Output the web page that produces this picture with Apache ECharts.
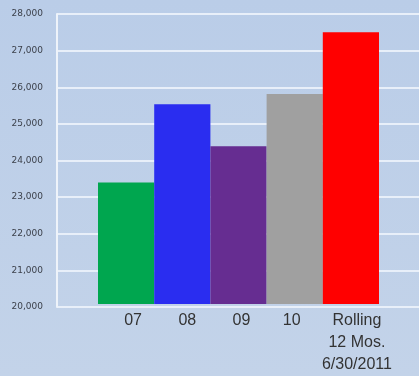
<!DOCTYPE html>
<html>
<head>
<meta charset="utf-8">
<script src="https://cdn.jsdelivr.net/npm/echarts@6/dist/echarts.min.js"></script>
<style>
  html, body { margin: 0; padding: 0; }
  #chart { width: 419px; height: 376px; }
</style>
</head>
<body>
<div id="chart"></div>
<script>
// 数据
const categories = ["07", "08", "09", "10", "Rolling\n12 Mos.\n6/30/2011"];
const values = [23350, 25510, 24350, 25790, 27500];
const barColors = ["#00a64f", "#2a2df0", "#662d91", "#a0a0a0", "#ff0000"];
const yMin = 20000;
const yMax = 28000;
const yStep = 1000;

// 标签横向微调（像素，正数向右）
const labelShift = [7, 5, 3, -3, 6];

const chart = echarts.init(document.getElementById("chart"));

const option = {
  backgroundColor: {
    type: "linear", x: 0, y: 0, x2: 0, y2: 1,
    colorStops: [
      { offset: 0, color: "#bacde8" },
      { offset: 1, color: "#c3d3e9" },
    ],
  },
  animation: false,
  grid: [
    // 背景网格 + y轴
    { left: 57, right: 0, top: 14, bottom: 69 },
    // 柱子
    { left: 98, right: 40, top: 14, bottom: 69 },
  ],
  xAxis: [
    {
      gridIndex: 0,
      type: "category",
      data: [""],
      axisLine: { show: false },
      axisTick: { show: false },
      axisLabel: { show: false },
    },
    {
      gridIndex: 1,
      type: "category",
      data: categories.map((c, i) => ({
        value: c,
        textStyle: {
          padding: labelShift[i] >= 0
            ? [0, 0, 0, labelShift[i] * 2]
            : [0, -labelShift[i] * 2, 0, 0],
        },
      })),
      axisLine: { show: false },
      axisTick: { show: false },
      axisLabel: {
        interval: 0,
        margin: 6,
        fontFamily: "Liberation Sans",
        fontSize: 16,
        lineHeight: 22,
        color: "#333",
      },
    },
  ],
  yAxis: [
    {
      gridIndex: 0,
      type: "value",
      min: yMin,
      max: yMax,
      interval: yStep,
      axisLine: { show: true, lineStyle: { color: "#eef3fa", width: 2 } },
      axisTick: { show: false },
      splitLine: { lineStyle: { color: "#e8eff9", width: 2 } },
      axisLabel: {
        margin: 14,
        fontFamily: "DejaVu Sans",
        fontSize: 9,
        color: "#3c414b",
        formatter: (v) => v.toLocaleString("en-US"),
      },
    },
    {
      gridIndex: 1,
      type: "value",
      min: yMin,
      max: yMax,
      interval: yStep,
      show: false,
    },
  ],
  series: [
    {
      type: "bar",
      xAxisIndex: 1,
      yAxisIndex: 1,
      barCategoryGap: 0,
      data: values.map((v, i) => ({ value: v, itemStyle: { color: barColors[i] } })),
    },
  ],
};

chart.setOption(option);
</script>
</body>
</html>
